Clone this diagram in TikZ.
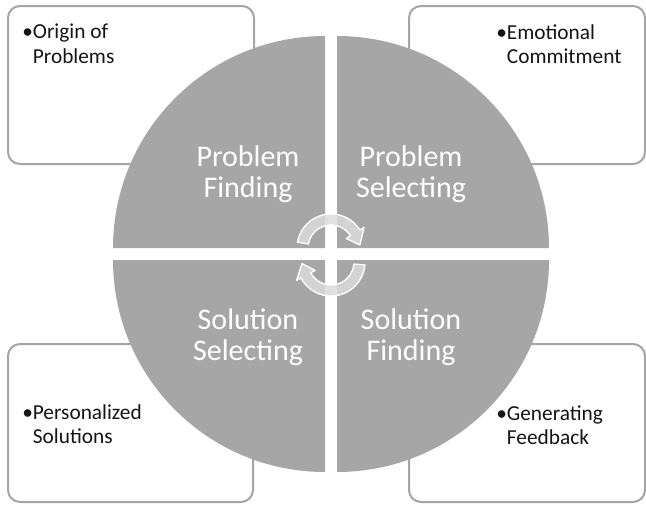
\documentclass[tikz,border=0pt]{standalone}
\usepackage{fontspec}
\setmainfont{Carlito}
\begin{document}
\begin{tikzpicture}[x=0.75pt,y=0.75pt,yscale=-1,xscale=1,
  cornerbox/.style={draw={rgb, 255:red, 165; green, 165; blue, 165}, line width=1.5pt, rounded corners=9pt},
  quadrant/.style={fill={rgb, 255:red, 166; green, 166; blue, 166}},
  cyclearrow/.style={fill={rgb, 255:red, 220; green, 220; blue, 220}, fill opacity=0.85, draw=white, line width=1pt, line join=round},
  quadlabel/.style={color=white, font=\fontsize{22.5}{23.6}\selectfont, align=center, inner sep=0pt},
  boxlabel/.style={color={rgb, 255:red, 20; green, 20; blue, 20}, font=\fontsize{16}{18.4}\selectfont, align=left, anchor=north west, inner sep=0pt}]
\useasboundingbox (0,0) rectangle (646,504);

%Shape: Rounded Rect [id:corner boxes]
\draw [cornerbox] (8,6) rectangle (254,164);
\draw [cornerbox] (409,6) rectangle (645,164);
\draw [cornerbox] (8,344) rectangle (253,502);
\draw [cornerbox] (409,344) rectangle (645,502);

%Shape: Pie quarters
\fill [quadrant] (325,248) -- (113,248) arc [start angle=180, end angle=270, radius=212] -- cycle;
\fill [quadrant] (337,248) -- (337,36) arc [start angle=270, end angle=360, radius=212] -- cycle;
\fill [quadrant] (337,260) -- (549,260) arc [start angle=0, end angle=90, radius=212] -- cycle;
\fill [quadrant] (325,260) -- (325,472) arc [start angle=90, end angle=180, radius=212] -- cycle;

%Shape: Circular Arrow (top)
\filldraw [cyclearrow] ([shift={(331,248)}]190:34) arc [start angle=190, end angle=328, radius=34] -- ([shift={(331,248)}]328:39) -- ([shift={(331,248)}]354:29) -- ([shift={(331,248)}]328:18) -- ([shift={(331,248)}]328:23) arc [start angle=328, end angle=190, radius=23] -- cycle;
%Shape: Circular Arrow (bottom)
\filldraw [cyclearrow] ([shift={(331,262)}]5:34) arc [start angle=5, end angle=152, radius=34] -- ([shift={(331,262)}]152:39) -- ([shift={(331,262)}]177:29) -- ([shift={(331,262)}]152:18) -- ([shift={(331,262)}]152:23) arc [start angle=152, end angle=5, radius=23] -- cycle;

% Text Node
\draw (248,174) node [quadlabel] (probfind) {Problem\\Finding};
% Text Node
\draw (411,174) node [quadlabel] (probsel) {Problem\\Selecting};
% Text Node
\draw (248,337) node [quadlabel] (solsel) {Solution\\Selecting};
% Text Node
\draw (411,337) node [quadlabel] (solfind) {Solution\\Finding};

% Text Node
\draw (22,24) node [boxlabel] (origin) {\textbullet Origin of\\\phantom{\textbullet}Problems};
% Text Node
\draw (496,24) node [boxlabel] (emotion) {\textbullet Emotional\\\phantom{\textbullet}Commitment};
% Text Node
\draw (22,404) node [boxlabel] (personal) {\textbullet Personalized\\\phantom{\textbullet}Solutions};
% Text Node
\draw (496,405) node [boxlabel] (feedback) {\textbullet Generating\\\phantom{\textbullet}Feedback};

\end{tikzpicture}
\end{document}
